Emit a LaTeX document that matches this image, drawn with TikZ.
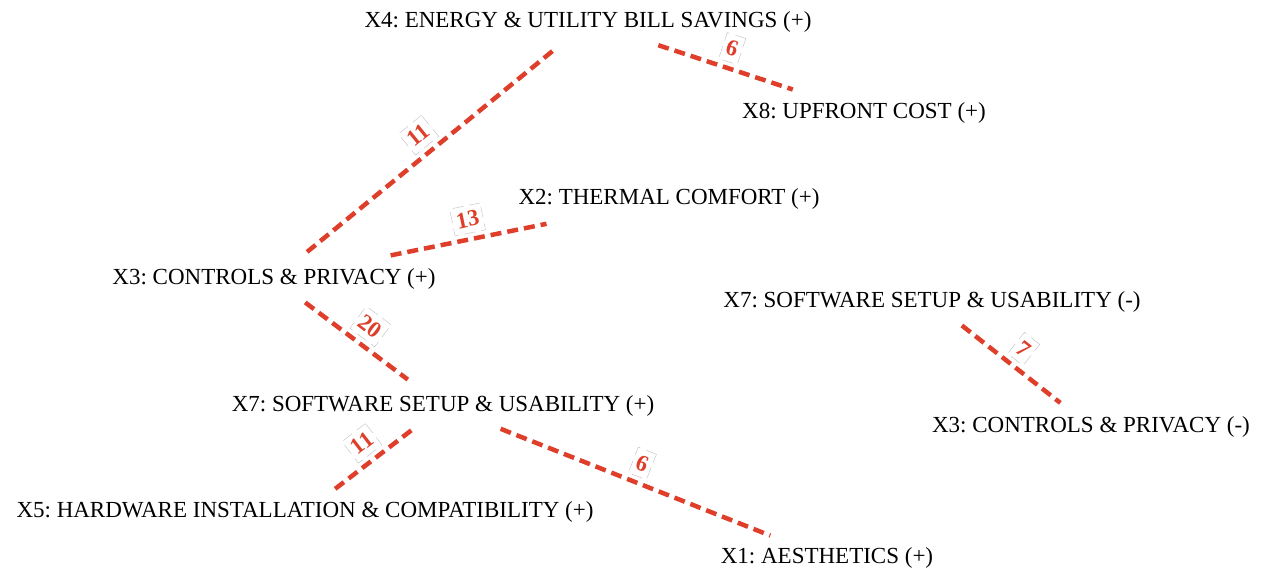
\documentclass[tikz,border=0pt]{standalone}
\usepackage{fontspec}
\setmainfont{Liberation Serif}
\frenchspacing
\definecolor{linkred}{RGB}{222,62,42}
\begin{document}
\begin{tikzpicture}[x=1pt,y=-1pt,
    factor/.style={font=\fontsize{23}{27}\selectfont, inner sep=0pt},
    link/.style={linkred, line width=4.5pt, dash pattern=on 11pt off 6pt},
    weight/.style={font=\fontsize{23}{27}\bfseries\selectfont, text=linkred, fill=white,
        draw=gray!50, line width=0.4pt, inner xsep=4pt, inner ysep=6pt, sloped, above=6pt, midway}]
    \useasboundingbox (0,0) rectangle (1265,571);

    % Factors
    \node[factor] (x4save) at (588,22) {X4: ENERGY \& UTILITY BILL SAVINGS (+)};
    \node[factor] (x8cost) at (864,113) {X8: UPFRONT COST (+)};
    \node[factor] (x2comfort) at (669,199) {X2: THERMAL COMFORT (+)};
    \node[factor] (x3ctrlpos) at (274,279) {X3: CONTROLS \& PRIVACY (+)};
    \node[factor] (x7softneg) at (932,302) {X7: SOFTWARE SETUP \& USABILITY (-)};
    \node[factor] (x7softpos) at (443,406) {X7: SOFTWARE SETUP \& USABILITY (+)};
    \node[factor] (x3ctrlneg) at (1091,427) {X3: CONTROLS \& PRIVACY (-)};
    \node[factor] (x5hw) at (305,512) {X5: HARDWARE INSTALLATION \& COMPATIBILITY (+)};
    \node[factor] (x1aes) at (827,558) {X1: AESTHETICS (+)};

    % Links
    \draw[link, shorten <=46pt, shorten >=39pt] (x4save.center) -- node[weight] {11} (x3ctrlpos.center);
    \draw[link, shorten <=74pt, shorten >=75pt] (x4save.center) -- node[weight] {6} (x8cost.center);
    \draw[link, shorten <=119pt, shorten >=125pt] (x3ctrlpos.center) -- node[weight] {13} (x2comfort.center);
    \draw[link, shorten <=39pt, shorten >=44pt] (x3ctrlpos.center) -- node[weight] {20} (x7softpos.center);
    \draw[link, shorten <=40pt, shorten >=38pt] (x7softpos.center) -- node[weight] {11} (x5hw.center);
    \draw[link, shorten <=62pt, shorten >=61pt] (x7softpos.center) -- node[weight] {6} (x1aes.center);
    \draw[link, shorten <=38pt, shorten >=39pt] (x7softneg.center) -- node[weight] {7} (x3ctrlneg.center);
\end{tikzpicture}
\end{document}
